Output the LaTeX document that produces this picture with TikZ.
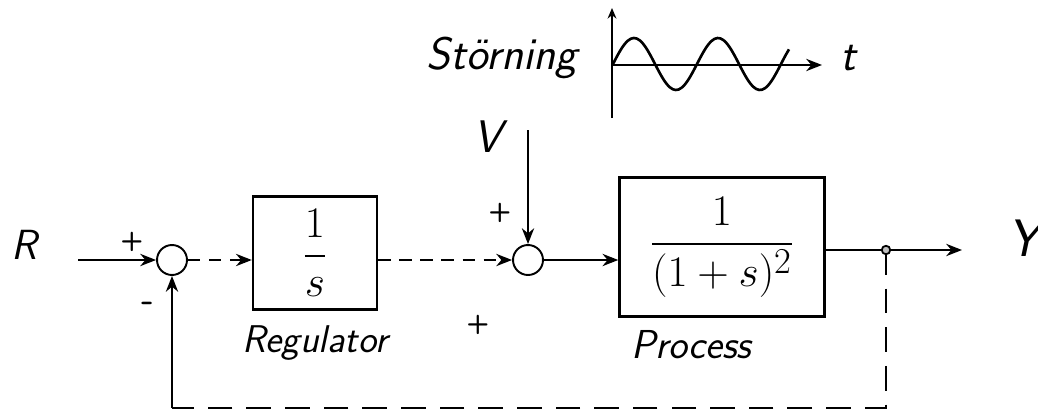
\documentclass[tikz,border=0pt]{standalone}
\usepackage{amsmath}
\usetikzlibrary{arrows.meta,positioning,calc}

\begin{document}
\begin{tikzpicture}[
    x=0.02cm, y=-0.02cm,
    line width=1.1pt,
    hand/.style={font=\fontsize{22}{26}\selectfont\sffamily\slshape, inner sep=1pt},
    sgn/.style={font=\fontsize{15}{17}\selectfont\sffamily\bfseries, inner sep=0pt},
    blk/.style={
      draw, line width=1.4pt, inner sep=0pt,
      font=\fontsize{28}{32}\selectfont
    },
    sumpt/.style={circle, draw, line width=1.1pt, minimum size=0.6cm, inner sep=0pt},
    sig/.style={-{Stealth[length=9pt,width=7pt]}},
    dsig/.style={sig, dash pattern=on 7pt off 5pt},
    fb/.style={dash pattern=on 14pt off 8pt}
  ]
    \useasboundingbox (0,0) rectangle (1038,419);

    % Reference input and first summation point
    \node[hand, font=\fontsize{24}{28}\selectfont\sffamily\slshape] (rlbl) at (24,245) {R};
    \coordinate (rin) at (78,260);
    \node[sumpt] (s1) at (172,260) {};
    \node[sgn] (p1) at (132,242) {+};
    \node[sgn, font=\fontsize{20}{22}\selectfont\sffamily\bfseries] (m1) at (148,307) {-};

    % Regulator block
    \node[blk, minimum width=2.48cm, minimum height=2.26cm] (reg) at (315,253)
      {$\dfrac{1}{s}$};
    \node[hand, below=0.25cm of reg] (reglbl) {Regulator};

    % Disturbance: second summation point
    \node[sumpt] (s2) at (528,260) {};
    \node[sgn] (p2) at (500,213) {+};
    \node[sgn] (p3) at (478,325) {+};
    \node[hand, font=\fontsize{26}{30}\selectfont\sffamily\slshape] (vlbl) at (488,137) {V};
    \coordinate (vin) at (528,130);

    % Process block
    \node[blk, minimum width=4.1cm, minimum height=2.78cm] (proc) at (722,247)
      {$\dfrac{1}{(1+s)^2}$};
    \node[hand, font=\fontsize{23}{26}\selectfont\sffamily\slshape,
      below=0.2cm of proc.south west, anchor=north west, xshift=0.2cm] (proclbl) {Process};

    % Output
    \coordinate (br) at (886,250);
    \coordinate (yout) at (962,250);
    \node[hand, font=\fontsize{30}{34}\selectfont\sffamily\slshape] (ylbl) at (1024,238) {Y};

    % Disturbance sketch (sine)
    \node[hand, font=\fontsize{26}{30}\selectfont\sffamily\slshape] (stor) at (502,58) {Störning};
    \coordinate (org) at (612,65);
    \coordinate (ybot) at (612,118);
    \coordinate (ytop) at (612,8);
    \coordinate (tend) at (822,65);
    \node[hand, font=\fontsize{26}{30}\selectfont\sffamily\slshape] (tlbl) at (848,58) {t};
    \draw[-{Stealth[length=6pt,width=5pt]}] (ybot) -- (ytop);
    \draw[sig] (org) -- (tend);
    \draw[line width=1.5pt, smooth, samples=60, domain=0:176]
      plot ({613+\x},{64-26*sin(\x*4.2857)});

    % Signal lines
    \draw[sig] (rin) -- (s1);
    \draw[dsig] (s1) -- (s1 -| reg.west);
    \draw[dsig] (reg.east |- s2) -- (s2);
    \draw[sig] (vin) -- (s2);
    \draw[sig] (s2) -- (s2 -| proc.west);
    \draw (proc.east |- br) -- (br);
    \draw[sig] (br) -- (yout);

    % Feedback
    \coordinate (fbr) at (886,408);
    \coordinate (fbl) at (172,408);
    \draw[fb] (br) -- (fbr) -- (fbl);
    \draw[sig] (fbl) -- (s1);
    \node[circle, draw, fill=gray!50, line width=1pt, minimum size=0.17cm, inner sep=0pt]
      (brdot) at (br) {};
  \end{tikzpicture}
\end{document}
